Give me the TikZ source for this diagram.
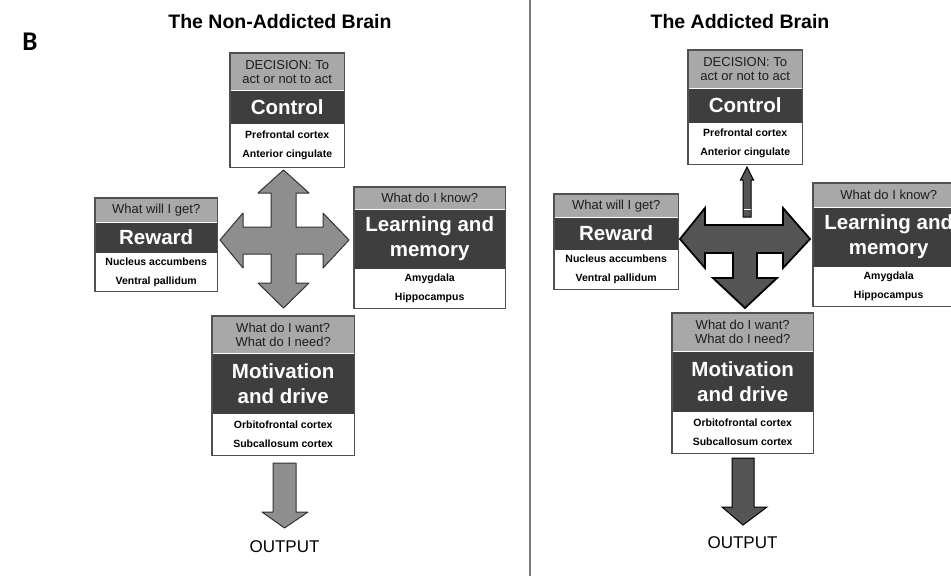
\documentclass[tikz,border=0pt]{standalone}
\usepackage{fontspec}
\setmainfont{Liberation Sans}
\newfontfamily\carlito{Carlito}
\definecolor{hdrgray}{HTML}{A8A8A8}
\definecolor{bandgray}{HTML}{3E3E3E}
\definecolor{hdrtext}{HTML}{1E1E1E}
\definecolor{boxedge}{HTML}{505050}
\definecolor{lightarrow}{HTML}{8E8E8E}
\definecolor{darkarrow}{HTML}{555555}
\definecolor{divcol}{HTML}{7A7A7A}
\tikzset{
  hdrbox/.style={anchor=north west, fill=hdrgray, inner sep=0pt, align=center,
    font=\fontsize{13}{14}\selectfont, text=hdrtext},
  bandbox/.style={anchor=north, fill=bandgray, inner sep=0pt, align=center,
    font=\bfseries\fontsize{20.5}{25}\selectfont, text=white},
  regbox/.style={anchor=north, fill=white, inner sep=0pt, align=center,
    font=\bfseries\fontsize{10.5}{19}\selectfont, text=black},
  boxline/.style={draw=boxedge, line width=1.4pt},
  titletext/.style={font=\bfseries\fontsize{19.5}{20}\selectfont, text=black},
  outtext/.style={font=\fontsize{17}{18}\selectfont, text=black},
  lightblock/.style={fill=lightarrow, draw=black!80, line width=1pt, line join=round},
  darkblock/.style={fill=darkarrow, draw=black, line width=1.8pt, line join=miter},
  divider/.style={draw=divcol, line width=1.5pt},
}
% #1 name, #2 (x,y) top-left, #3 width, #4 #5 #6 section heights, #7 header, #8 label, #9 regions
\newcommand\BrainBox[9]{%
  \node[hdrbox, minimum width=#3pt, minimum height=#4pt] (#1h) at #2 {#7};
  \node[bandbox, minimum width=#3pt, minimum height=#5pt] (#1b) at (#1h.south) {#8};
  \node[regbox, minimum width=#3pt, minimum height=#6pt] (#1r) at (#1b.south) {#9};
  \draw[boxline] (#1h.north west) rectangle (#1r.south east);
}
\begin{document}
\begin{tikzpicture}[x=1pt, y=-1pt]
\useasboundingbox (0,0) rectangle (951,576);
\clip (0,0) rectangle (951,576);
\fill[white] (0,0) rectangle (951,576);

% panel label and titles
\node[font=\carlito\bfseries\fontsize{27}{27}\selectfont] (lblB) at (30,42) {B};
\node[titletext] (tleft) at (280,22) {The Non-Addicted Brain};
\node[titletext] (tright) at (740,22) {The Addicted Brain};

% divider
\coordinate (dtop) at (530,0);
\coordinate (dbot) at (530,576);
\draw[divider] (dtop) -- (dbot);

% ---------------- left panel ----------------
\BrainBox{lc}{(230,53)}{114}{37}{33}{43}{DECISION: To\\act or not to act}{Control}{Prefrontal cortex\\Anterior cingulate}
\BrainBox{lr}{(95,198)}{122}{24}{30}{38}{What will I get?}{Reward}{Nucleus accumbens\\Ventral pallidum}
\BrainBox{ll}{(354,187)}{151}{22}{59}{39}{What do I know?}{Learning and\\memory}{Amygdala\\Hippocampus}
\BrainBox{lm}{(212,316)}{142}{37}{60}{41}{What do I want?\\What do I need?}{Motivation\\and drive}{Orbitofrontal cortex\\Subcallosum cortex}

% four-way arrow
\draw[lightblock] (283.5,170) -- (309,193) -- (296,193) -- (296,227) -- (323,227) -- (323,213)
  -- (349,240) -- (323,268) -- (323,254) -- (296,254) -- (296,283) -- (309,283)
  -- (283.5,308) -- (258,283) -- (271,283) -- (271,254) -- (243,254) -- (243,268)
  -- (220,240) -- (243,213) -- (243,227) -- (271,227) -- (271,193) -- (258,193) -- cycle;

% output arrow
\draw[lightblock] (273,463) -- (296,463) -- (296,512) -- (308,512) -- (284.5,528)
  -- (262,512) -- (273,512) -- cycle;
\node[outtext] (outl) at (284.5,547) {OUTPUT};

% ---------------- right panel ----------------
\BrainBox{rc}{(688,50)}{114}{38}{34}{41}{DECISION: To\\act or not to act}{Control}{Prefrontal cortex\\Anterior cingulate}
\BrainBox{rr}{(554,194)}{124}{23}{32}{39}{What will I get?}{Reward}{Nucleus accumbens\\Ventral pallidum}
\BrainBox{rl}{(813,183)}{151}{24}{59}{39}{What do I know?}{Learning and\\memory}{Amygdala\\Hippocampus}
\BrainBox{rm}{(672,313)}{141}{38}{60}{41}{What do I want?\\What do I need?}{Motivation\\and drive}{Orbitofrontal cortex\\Subcallosum cortex}

% small up arrow
\draw[fill=darkarrow, draw=black, line width=1pt, line join=miter]
  (747,167) -- (753.5,180) -- (751,180) -- (751,217) -- (743,217) -- (743,180)
  -- (740.5,180) -- cycle;
\draw[white, line width=1pt] (743.5,209) -- (750.5,209);

% T-shaped arrow
\draw[darkblock] (680,239) -- (705,208) -- (705,225) -- (783,225) -- (783,208) -- (810,239)
  -- (783,268) -- (783,253) -- (757,253) -- (757,278) -- (777,278) -- (745,308)
  -- (713,278) -- (733,278) -- (733,253) -- (705,253) -- (705,268) -- cycle;

% output arrow
\draw[darkblock, line width=1pt] (732,458) -- (754,458) -- (754,507) -- (767,507) -- (743,525)
  -- (722,507) -- (732,507) -- cycle;
\node[outtext] (outr) at (742.5,543) {OUTPUT};
\end{tikzpicture}
\end{document}
